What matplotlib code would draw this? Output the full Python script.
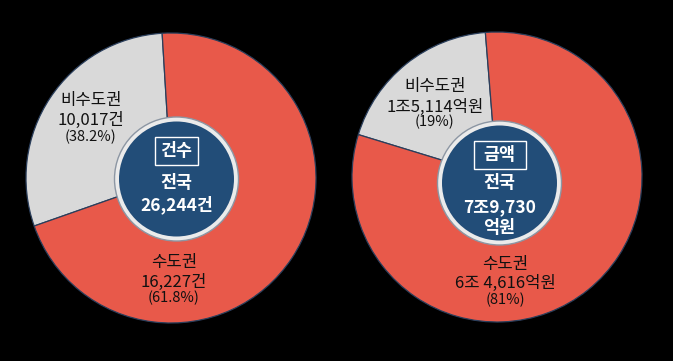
import matplotlib.pyplot as plt
from matplotlib.patches import Circle, Rectangle

plt.rcParams['font.family'] = ['Noto Sans CJK KR', 'DejaVu Sans']

# 색상
RED = '#E8594A'
GRAY = '#D9D9D9'
NAVY = '#224D78'
EDGE = '#2B3F5C'

# 건수 (좌측) – 조각은 그림에 그려진 비율 그대로 (비수도권, 수도권)
count_drawn = [29.4, 70.6]
count_capital = ['수도권', '16,227건', '(61.8%)']
count_noncap = ['비수도권', '10,017건', '(38.2%)']
count_center = ['전국', '26,244건']

# 금액 (우측)
amount_drawn = [19, 81]
amount_capital = ['수도권', '6조 4,616억원', '(81%)']
amount_noncap = ['비수도권', '1조5,114억원', '(19%)']
amount_center = ['전국', '7조9,730', '억원']

fig = plt.figure(figsize=(6.73, 3.61), dpi=100, facecolor='black')
ax = fig.add_axes([0, 0, 1, 1])
ax.axis('off')


def label(x, ys, lines):
    for y, t, fs in zip(ys, lines, [12, 12, 10.5]):
        ax.text(x, y, t, fontsize=fs, ha='center', va='center', color='#111111',
                fontweight='medium', zorder=4)


def donut(cx, cy, icx, icy, drawn, start, title, box_w, box_y, center_lines, center_ys):
    # 비수도권이 먼저, 위쪽에서 반시계 방향
    ax.pie(drawn, center=(cx, cy), radius=145, startangle=start,
           colors=[GRAY, RED], counterclock=True,
           wedgeprops=dict(edgecolor=EDGE, linewidth=0.9))
    ax.add_patch(Circle((icx, icy), 62, facecolor='#EBEBEB', edgecolor='#8C96A3', lw=1.0, zorder=5))
    ax.add_patch(Circle((icx, icy), 57.5, facecolor=NAVY, edgecolor='none', zorder=6))
    ax.add_patch(Rectangle((icx - box_w / 2, box_y - 14), box_w, 28, facecolor='none',
                           edgecolor='white', lw=1.0, zorder=7))
    ax.text(icx, box_y, title, color='white', fontsize=12.5, fontweight='bold',
            ha='center', va='center', zorder=8)
    for y, t in zip(center_ys, center_lines):
        ax.text(icx, y, t, color='white', fontsize=12.5, fontweight='bold',
                ha='center', va='center', zorder=8)


donut(171, 183, 176.5, 182, count_drawn, 93.5, '건수', 43, 210, count_center, [178, 156])
label(91, [260, 241, 224], count_noncap)
label(174, [98, 79, 63], count_capital)

donut(497, 184, 499.5, 178, amount_drawn, 94.6, '금액', 52, 206, amount_center, [178, 154, 133])
label(435, [274, 254, 239], amount_noncap)
label(505, [96, 78, 61], amount_capital)

ax.set_xlim(0, 673)
ax.set_ylim(0, 361)
ax.set_aspect('equal')

fig.savefig('out.png', dpi=100, facecolor='black')
